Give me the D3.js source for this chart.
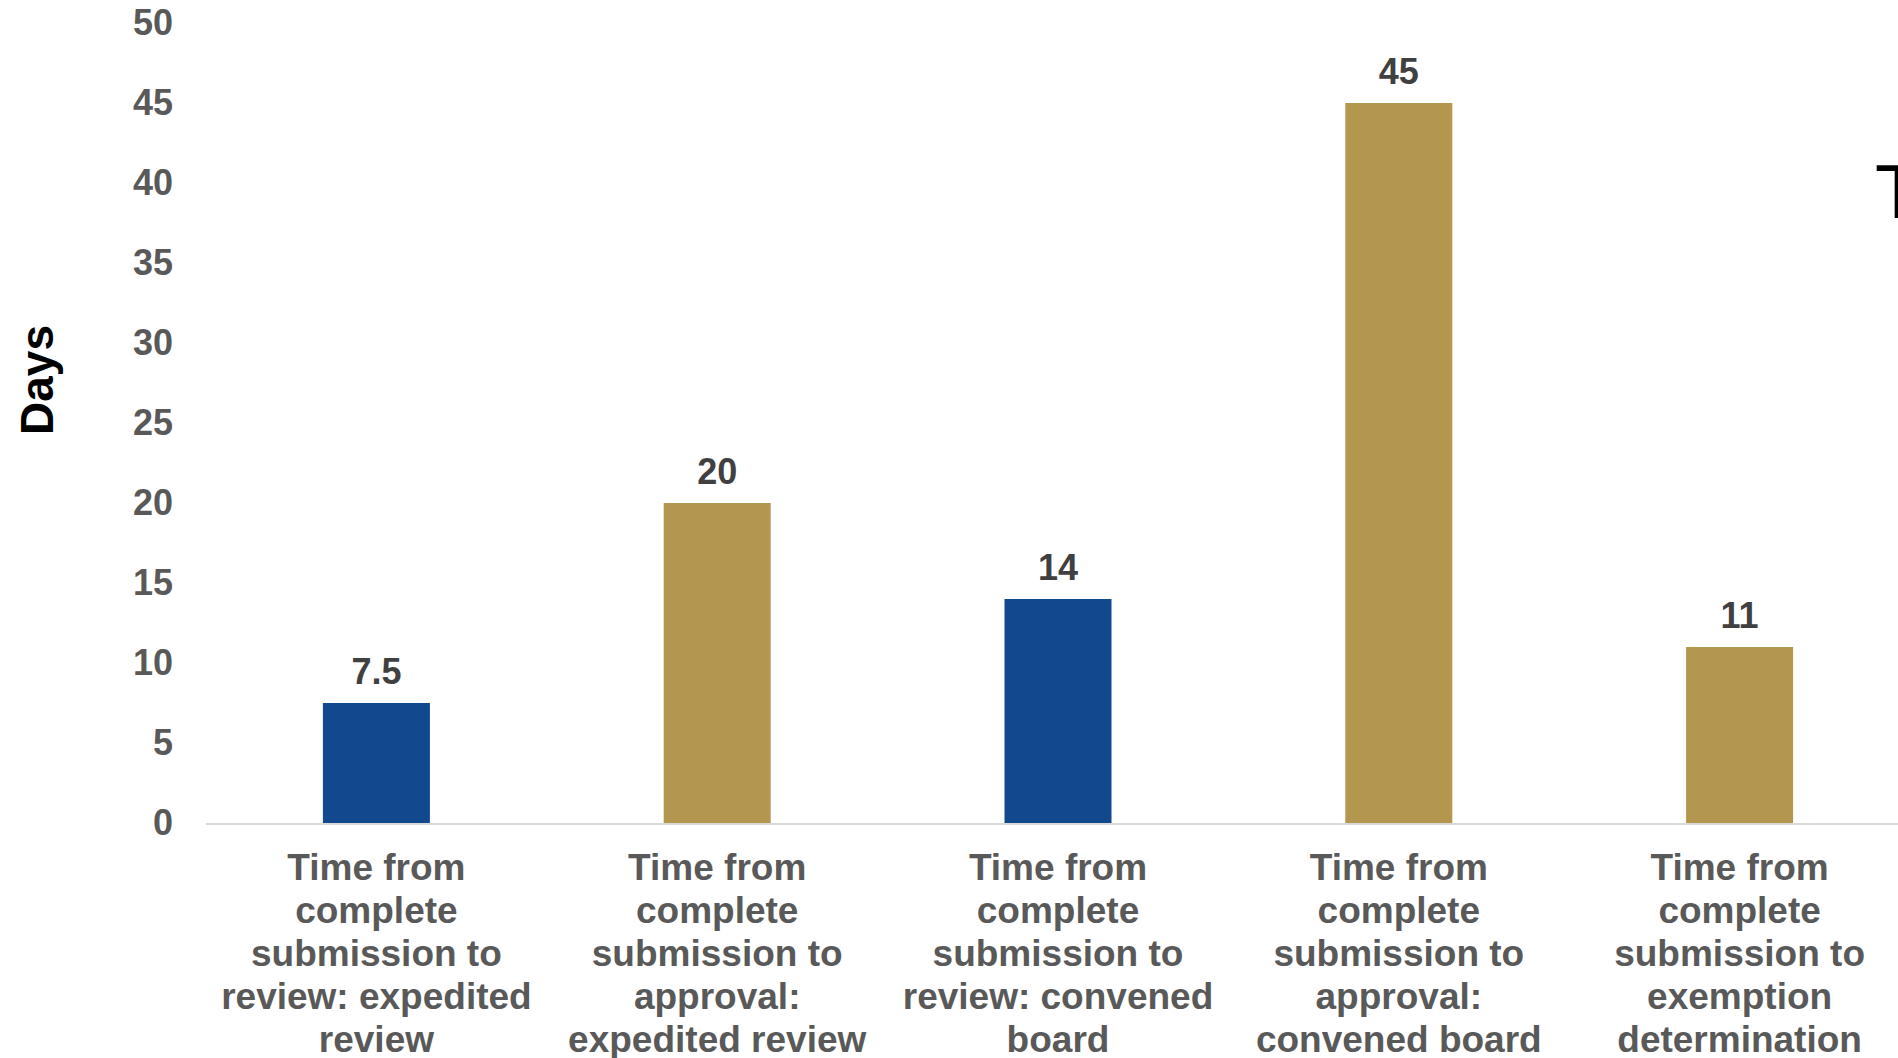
<!DOCTYPE html>
<html>
<head>
<meta charset="utf-8">
<script src="https://cdn.jsdelivr.net/npm/d3@7"></script>
<style>
  html, body { margin: 0; padding: 0; background: #ffffff; overflow: hidden; }
  svg { display: block; }
</style>
</head>
<body>
<svg id="chart" width="1898" height="1058"></svg>
<script>
// ---- data ----
const categories = [
  "Time from complete submission to review: expedited review",
  "Time from complete submission to approval: expedited review",
  "Time from complete submission to review: convened board",
  "Time from complete submission to approval: convened board",
  "Time from complete submission to exemption determination"
];
const categoryLines = [
  ["Time from", "complete", "submission to", "review: expedited", "review"],
  ["Time from", "complete", "submission to", "approval:", "expedited review"],
  ["Time from", "complete", "submission to", "review: convened", "board"],
  ["Time from", "complete", "submission to", "approval:", "convened board"],
  ["Time from", "complete", "submission to", "exemption", "determination"]
];
const values = [7.5, 20, 14, 45, 11];
const valueLabels = ["7.5", "20", "14", "45", "11"];
const yTicks = [0, 5, 10, 15, 20, 25, 30, 35, 40, 45, 50];
const yTitle = "Days";
const kinds = ["review", "approval", "review", "approval", "approval"];

// ---- styling ----
const kindColor = { review: "#12488e", approval: "#b4974f" };
const font = "'Liberation Sans', Arial, sans-serif";

const svg = d3.select("#chart");
const plotLeft = 206, plotRight = 1910, plotTop = 23, plotBottom = 823;

const x = d3.scaleBand()
  .domain(categories)
  .range([plotLeft, plotRight])
  .paddingInner(0.686)
  .paddingOuter(0.343);

const y = d3.scaleLinear().domain([0, 50]).range([plotBottom, plotTop]);

// y axis (labels only)
const yAxis = svg.append("g")
  .attr("transform", `translate(${plotLeft},0)`)
  .call(d3.axisLeft(y).tickValues(yTicks).tickSize(0).tickPadding(33).tickFormat(d3.format("d")));
yAxis.select(".domain").remove();
yAxis.selectAll("text")
  .attr("fill", "#595959")
  .style("font-family", font)
  .style("font-size", "36px")
  .style("font-weight", "bold")
  .attr("dy", "0.33em");

// bars
svg.append("g").selectAll("rect")
  .data(values)
  .join("rect")
  .attr("x", (d, i) => x(categories[i]))
  .attr("width", x.bandwidth())
  .attr("y", d => y(d))
  .attr("height", d => y(0) - y(d))
  .attr("fill", (d, i) => kindColor[kinds[i]]);

// x axis
const xAxis = svg.append("g")
  .attr("transform", `translate(0,${plotBottom})`)
  .call(d3.axisBottom(x).tickSize(0).tickPadding(0));
xAxis.select(".domain")
  .attr("stroke", "#d9d9d9")
  .attr("stroke-width", 2)
  .attr("d", `M${plotLeft},1H${plotRight}`);
xAxis.selectAll(".tick text").each(function(d, i) {
  const t = d3.select(this);
  t.text(null)
    .attr("y", 0)
    .attr("dy", null)
    .attr("fill", "#595959")
    .style("font-family", font)
    .style("font-size", "37px")
    .style("font-weight", "bold")
    .attr("text-anchor", "middle");
  categoryLines[i].forEach((line, k) => {
    t.append("tspan").attr("x", 0).attr("y", 57 + k * 43).text(line);
  });
});

// value labels
svg.append("g").selectAll("text")
  .data(values)
  .join("text")
  .attr("x", (d, i) => x(categories[i]) + x.bandwidth() / 2)
  .attr("y", d => y(d) - 19)
  .attr("text-anchor", "middle")
  .attr("fill", "#404040")
  .style("font-family", font)
  .style("font-size", "36px")
  .style("font-weight", "bold")
  .text((d, i) => valueLabels[i]);

// y title
svg.append("text")
  .attr("transform", "translate(53,380) rotate(-90)")
  .attr("text-anchor", "middle")
  .attr("fill", "#000000")
  .style("font-family", font)
  .style("font-size", "46px")
  .style("font-weight", "bold")
  .text(yTitle);

// cut-off glyph at right edge
svg.append("text")
  .attr("x", 1875)
  .attr("y", 218)
  .attr("fill", "#000000")
  .style("font-family", font)
  .style("font-size", "76px")
  .text("T");
</script>
</body>
</html>
